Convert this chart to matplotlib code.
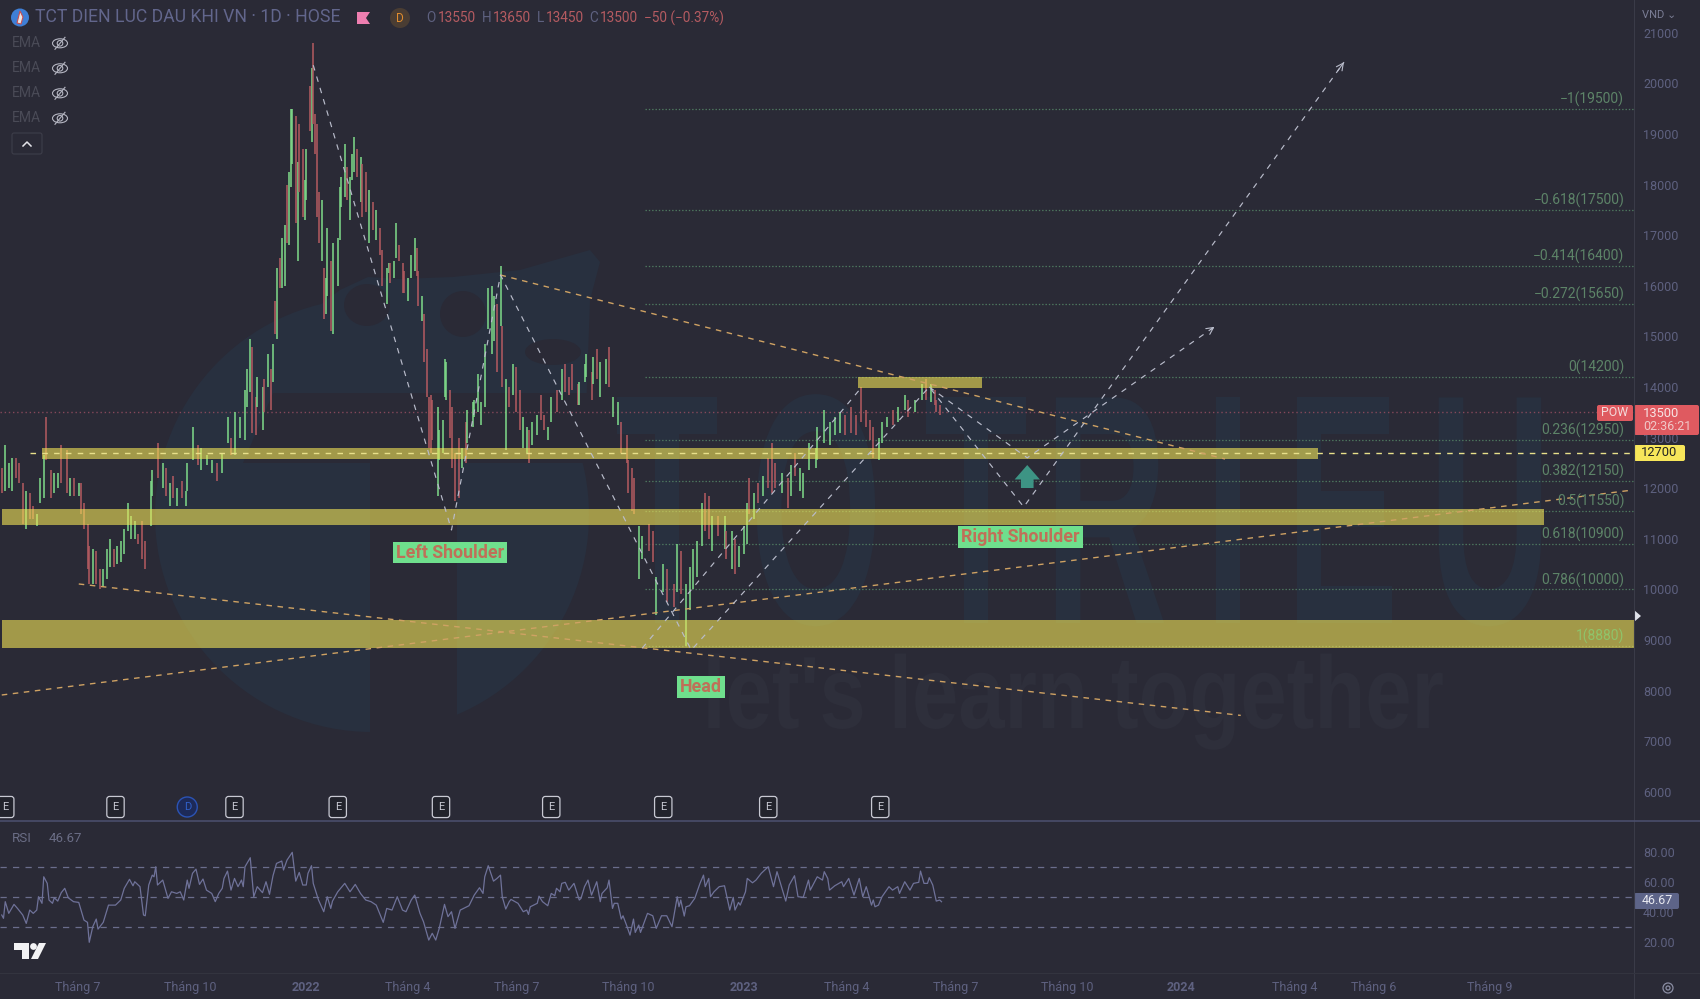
import matplotlib
matplotlib.use('Agg')
import matplotlib.pyplot as plt
from matplotlib.patches import Circle, Ellipse, Polygon, Rectangle, FancyBboxPatch
from matplotlib.patheffects import AbstractPathEffect
from matplotlib.transforms import Affine2D

plt.rcParams['font.family'] = ['Roboto', 'DejaVu Sans']
plt.rcParams['lines.scale_dashes'] = False

# daily candles, read every second session or so
sessions = [1,3,5,7,9,11,13,15,17,19,21,23,25,26,29,31,33,35,38,40,42,45,46,48,50,51,53,55,57,59,
    61,63,65,67,69,71,73,75,77,79,81,83,86,87,90,93,95,97,99,101,104,106,107,110,113,115,118,121,124,127,
    130,132,134,137,140,141,143,144,146,147,150,151,153,155,156,157,158,160,161,163,164,165,166,167,169,170,171,173,174,175,
    177,178,179,180,181,182,184,185,186,187,189,190,193,194,195,197,198,200,201,202,204,206,207,209,211,213,215,217,218,221,
    222,223,225,226,228,230,231,233,235,237,238,239,241,242,244,245,246,247,250,251,253,254,255,257,258,260,262,264,266,267,
    270,271,273,275,277,279,281,282,284,286,287,289,291,293,295,297,299,301,302,304,307,309,311,313,315,318,321,323,325,327,
    330,331,334,335,338,339,341,343,346,348,350,353,355,358,359,361,362,365,367,371,373,375,379,381,385,387,389,392,394,396,
    398,401,403,405,407,410,414,415,418,420,422,425,427,428,431,433,436,439,441,443,447,450,452,454,457,459,462,466,467,471,
    474,477,480,483,486,489,492,495,497,499,502,504,507,510,513,517,519,523,527,529,532,534,535,537]
highs = [12400,12850,12500,12600,12600,12500,12100,11950,11900,11650,11500,12200,12650,13400,12350,12300,12300,12850,12750,12200,12200,12100,12100,11700,11300,10850,10800,10750,10400,10400,
    10800,11000,10800,10850,10950,11200,11700,11450,11350,11100,11350,10950,12150,12350,12900,12500,12400,12100,12250,12000,12150,11950,12500,13200,12850,12800,12650,12550,12500,12700,
    13400,13000,13500,13400,13950,14350,14950,14800,13800,14200,14000,14150,14650,14350,14850,15700,16350,16550,16950,17200,18000,18250,19500,19500,19350,18450,19200,18700,18100,18700,
    19950,20300,20800,19400,19200,17850,17700,16350,16150,17150,16500,16850,16950,17950,18150,18800,18350,18150,18600,18950,18700,18550,18400,18250,17900,17650,17500,17150,16700,16350,
    16450,16450,16500,17250,16800,16450,16300,16150,16600,16950,16750,16300,15800,15450,14750,13800,13850,13750,13600,13150,13350,14550,14500,13950,13600,12700,13000,12800,13300,13550,
    13700,13750,14250,13700,14850,15950,16000,15800,15650,16400,15200,14150,14000,14450,14400,13950,13400,13200,13150,13300,13450,13850,13450,13200,13800,13950,14350,14450,14200,14450,
    14050,14100,14450,14650,14300,14600,14750,14500,14550,14800,13800,13700,13300,13050,12550,12400,12200,11250,11050,11300,11150,10250,10500,10400,10100,10900,10750,10100,10450,10800,
    10950,11700,11900,11850,11450,11450,11450,11150,11150,11000,10850,11250,11700,12200,11900,12100,12250,12600,12900,12500,12300,12200,12450,12700,12400,12300,12900,12800,13200,13550,
    13300,13400,13500,13450,13600,13450,14000,13550,13350,13200,13000,13300,13400,13550,13600,13850,13750,13750,14050,14150,14050,13950,13750,13650]
lows = [11900,11950,12000,11950,12200,12100,11300,11200,11400,11400,11250,11700,11800,12550,11800,11900,12000,12100,11900,11850,11850,11850,11500,11200,10400,10100,10100,10100,10000,10050,
    10200,10450,10450,10500,10550,10700,11150,11000,11000,10900,10600,10400,11250,11850,12200,12000,11850,11650,11800,11650,11800,11650,11950,12550,12450,12350,12450,12300,12150,12300,
    12900,12650,12650,13000,12950,13600,13900,13100,13050,13600,13150,13500,14000,13550,14100,15050,14950,15950,15950,16000,16850,16800,17950,18400,17250,16500,17850,17350,17300,17700,
    19050,18850,19200,18600,17350,16850,16500,15350,15450,15800,15100,15050,16000,16900,17550,17750,17700,17300,18100,18250,18150,17650,17350,17450,16850,17100,16900,16600,16000,15650,
    16250,16050,16150,16550,16500,15850,15850,15700,16150,16300,16200,15600,15300,14500,13800,12800,12700,12950,11850,12550,12700,13800,13750,13000,12400,11750,11800,12400,12500,12900,
    13200,13400,13500,13250,13600,15150,14650,14900,14300,15200,14000,12750,13600,13850,13500,13150,12800,12700,12500,12850,13050,13350,13150,12950,13300,13500,13750,13900,13850,13950,
    13650,13650,14100,14200,13750,14050,14150,13800,14050,14000,13400,13250,12700,12500,11900,11550,11500,10200,10600,10750,10550,9500,9950,9750,9650,9950,9900,8880,9600,10000,
    10250,10850,11150,11000,10750,11050,10800,10600,10400,10300,10450,10700,10900,11500,11400,11700,11850,12000,11900,12000,11900,11600,11850,12250,11950,11800,12350,12400,12550,12900,
    12850,13050,13100,13050,13100,13050,13300,13200,12950,12600,12550,12900,13200,13250,13300,13550,13400,13500,13750,13750,13700,13650,13500,13450]
# u = up bar, d = down bar
rising = ('duuudddudd' 'uuudduuddu' 'dudddduddu' 'uuduuuuuud' 'dduudududu' 'duuuduuudu'
          'uduuuuuddu' 'ududududuu' 'duuududduu' 'dudddduduu' 'duuuuuduuu' 'duddududdu'
          'uduuddduuu' 'ddudddddu' 'u' 'uuuddddudu' 'uuuuuuuudu' 'dududduudu' 'udduududdd'
          'duuududuud' 'uuddddduud' 'duudduduuu' 'uuddududud' 'uuudududdd' 'ududuuuuuu'
          'uuuddddddd' 'uuuduuduud' 'uddd')

rsi_sessions = [1,2,3,5,8,10,13,15,17,19,21,22,24,25,27,28,30,31,33,35,37,39,42,45,48,50,51,53,55,56,
    59,62,66,69,71,74,76,77,80,82,83,85,87,88,89,90,93,96,98,101,103,105,107,108,110,112,114,116,118,121,
    123,125,127,128,130,132,134,136,138,139,140,143,145,147,150,152,154,156,158,161,162,164,167,168,169,171,173,175,176,178,
    179,182,185,187,189,190,193,197,200,203,206,209,212,215,219,221,224,227,230,232,235,237,240,242,245,247,249,251,254,256,
    258,260,263,268,271,274,276,277,279,282,284,286,287,289,291,292,296,299,301,302,303,307,308,310,313,315,317,318,320,321,
    323,325,328,331,332,334,336,338,341,343,344,347,348,350,351,353,355,356,358,360,362,363,365,366,370,373,375,378,381,384,
    387,388,389,391,392,394,397,400,402,403,405,406,408,411,414,417,419,420,422,423,426,427,430,432,435,439,442,444,446,449,
    451,454,456,459,462,463,467,470,471,473,474,477,481,482,485,488,491,493,495,498,499,500,502,504,508,510,513,514,517,520,
    522,525,526,528,530,531,533,535,537,538]
rsi_values = [37.8,35.6,46.7,38.9,44.9,42.2,37.8,32.2,41.1,38.9,41.1,50,45.6,63.3,58.9,47.8,45.6,49.3,47.1,52.7,55.6,49.3,46.7,46.2,34.4,32.9,19.6,30,35.1,28.4,
    32.9,44.4,44.4,47.8,55.6,61.6,57.3,60,56.7,37.8,37.3,57.8,64.4,63.3,70,57.8,61.1,48.9,53.3,52.2,53.3,47.8,61.1,55.6,65.6,68.4,58.2,61.8,54.4,52.2,
    46.7,52.2,55.6,62.2,67.1,54.4,62.2,56.7,61.1,56.7,70,76,50,56.7,52.7,60,51.6,64,72.2,73.8,67.8,74.4,79.6,70,60.4,66.2,57.8,57.8,65.6,70.7,
    58.9,47.8,40,50,42.2,47.1,53.3,58.9,53.3,58.2,52.2,47.8,46.7,44.4,32.9,42.2,41.1,50,41.1,40,47.8,51.1,38.9,33.3,21.1,25.6,21.1,28.9,44.9,36.7,
    40,28.9,41.1,44,51.1,56,52.2,63.3,70.7,60.4,62.2,64.4,50,41.8,46.7,48.2,45.6,40,41.1,38.2,43.3,45.6,50.4,46.7,44,52.2,50.7,55.6,53.3,58.9,
    59.6,54.4,58.9,47.8,48.9,56.7,61.1,51.1,60,46.7,52.2,56,61.1,42.2,45.6,45.6,35.1,37.3,31.1,24.4,35.1,26.2,31.1,26.2,38.9,37.3,28.9,37.3,37.3,30,
    50,43.3,47.8,37.1,43.3,44,48.9,58.9,64.4,56.7,62.2,50,53.3,56.7,57.3,41.1,49.6,41.1,46.2,44.4,53.3,62.2,59.3,61.1,65.6,70,56.7,66.7,58.9,47.1,
    57.8,64,50,49.6,61.1,54.4,63.3,61.1,66.7,62.2,54.4,57.3,60,56.7,62.2,51.1,62.2,50,56.7,44.4,47.8,43.3,44.4,50,56.7,54.4,56.7,52.2,60,54.4,
    58.9,59.6,67.1,58.9,58.9,62.7,57.8,47.1,47.8,46.67]

fib_levels = [19500, 17500, 16400, 15650, 14200, 12950, 12150, 11550, 10900, 10000, 8880]
fib_labels = ['−1(19500)', '−0.618(17500)', '−0.414(16400)', '−0.272(15650)', '0(14200)', '0.236(12950)',
              '0.382(12150)', '0.5(11550)', '0.618(10900)', '0.786(10000)', '1(8880)']

# zones: first session, last session, low, high
zone_start = [24, 1, 1, 490]
zone_end = [753, 882, 934, 561]
zone_low = [12577, 11273, 8842, 13980]
zone_high = [12800, 11589, 9395, 14198]

zigzag_s = [179, 258, 286, 395, 531, 585, 768]
zigzag_p = [20360, 11174, 16213, 8800, 14000, 11630, 20420]
inner_s = [367, 492]
inner_p = [8840, 13980]
drop_s = [531, 587, 694]
drop_p = [14000, 12600, 15190]
trend_s = [(45, 709), (1, 933), (286, 700)]
trend_p = [(10107, 7510), (7913, 11964), (16213, 12577)]

time_ticks = [44.6, 108.6, 174.9, 233, 295, 359, 425, 484, 546, 610, 675, 740, 785, 851]
time_labels = ['Tháng 7', 'Tháng 10', '2022', 'Tháng 4', 'Tháng 7', 'Tháng 10', '2023', 'Tháng 4', 'Tháng 7',
               'Tháng 10', '2024', 'Tháng 4', 'Tháng 6', 'Tháng 9']
price_ticks = list(range(6000, 21001, 1000))
rsi_ticks = [20, 40, 60, 80]
earnings = [3, 66, 134, 193, 252, 315, 379, 439, 503]
dividend = [107]

BG = '#2a2a36'
WM = '#28303f'
UP = '#7fdc8a'
DOWN = '#b55b61'
AXIS_TXT = '#5e6180'
WHITE_D = '#b9bccb'
ORANGE = '#cfa263'
W, H = 1700, 999
PANE_R = 1634


class Squeeze(AbstractPathEffect):
    # narrows a text around its centre, the watermark font is a condensed one
    def __init__(self, cx, sx):
        super().__init__()
        self.cx = cx
        self.sx = sx

    def draw_path(self, renderer, gc, tpath, affine, rgbFace=None):
        squeeze = Affine2D().translate(-self.cx, 0).scale(self.sx, 1).translate(self.cx, 0)
        renderer.draw_path(gc, tpath, affine + squeeze, rgbFace)


fig = plt.figure(figsize=(W / 100, H / 100), dpi=100, facecolor=BG)

# watermark + chrome live in pixel axes
back = fig.add_axes([0, 0, 1, 1], zorder=0)
back.set_xlim(0, W)
back.set_ylim(H, 0)
back.axis('off')
back.add_patch(Circle((372, 515), 217, fc=WM, ec='none'))
back.add_patch(Polygon([(300, 320), (340, 290), (368, 277), (400, 279), (453, 277), (520, 270), (590, 250), (600, 262),
                        (590, 300), (585, 440), (372, 420)], fc=WM, ec='none'))
back.add_patch(Ellipse((367, 305), 46, 42, fc=BG, ec='none'))
back.add_patch(Ellipse((463, 314), 46, 46, fc=BG, ec='none'))
back.add_patch(Ellipse((553, 352), 56, 26, fc=BG, ec='none'))
back.add_patch(Polygon([(273, 393), (600, 393), (583, 463), (457, 463), (457, 735), (370, 735), (370, 463), (243, 463)],
                       fc=BG, ec='none'))
wm_font = ['Liberation Sans', 'DejaVu Sans']
for ch, cx in zip('TOTRIEU', [667, 816, 976, 1106, 1228, 1342, 1490]):
    t = back.text(cx, 623, ch, color=WM, fontsize=236, fontweight='bold', family=wm_font, ha='center', va='baseline')
    t.set_path_effects([Squeeze(cx, 0.52)])
t = back.text(1073, 728, "let's learn together", color='#2e2f3b', fontsize=74, fontweight='bold', family=wm_font,
              ha='center', va='baseline')
t.set_path_effects([Squeeze(1073, 0.81)])

ax = fig.add_axes([0, 1 - 820 / H, PANE_R / W, 820 / H], zorder=1)
ax.patch.set_alpha(0)
ax.set_xlim(0, PANE_R / 1.75)
ax.set_ylim(14000 - 433 / 0.0506, 14000 + 387 / 0.0506)
for s in ax.spines.values():
    s.set_visible(False)
ax.set_xticks([])
ax.yaxis.tick_right()
ax.set_yticks(price_ticks)
ax.tick_params(axis='y', length=0, pad=6.5, labelsize=9, labelcolor=AXIS_TXT)

colors = [UP if c == 'u' else DOWN for c in rising]
ax.vlines(sessions, lows, highs, colors=colors, lw=1.1, zorder=2)

for a, b, lo, hi in zip(zone_start, zone_end, zone_low, zone_high):
    ax.add_patch(Rectangle((a, lo), b - a, hi - lo, fc='#f3e557', ec='none', alpha=0.6, zorder=3))

for level, label in zip(fib_levels, fib_labels):
    ax.plot([368.6, PANE_R / 1.75], [level, level], color='#4f7a60', lw=0.9, ls=(0, (1, 1.4)), zorder=1)
    col = '#8fc46a' if label.startswith('1(') else '#5d8468'
    ax.annotate(label, (PANE_R / 1.75, level), xytext=(-7, 1.3), textcoords='offset points', ha='right', va='bottom',
                color=col, fontsize=10, zorder=5)

ax.axhline(13500, color='#85485a', lw=1, ls=(0, (1, 2)), zorder=1)
ax.plot([17, PANE_R / 1.75], [12700, 12700], color='#e8e08a', lw=1, ls=(0, (4, 4.5)), zorder=4)

for xs, ps in zip(trend_s, trend_p):
    ax.plot(xs, ps, color=ORANGE, lw=1, ls=(0, (4, 4)), zorder=4)
for xs, ps in [(zigzag_s, zigzag_p), (inner_s, inner_p), (drop_s, drop_p)]:
    ax.plot(xs, ps, color=WHITE_D, lw=0.85, ls=(0, (4, 4.5)), zorder=4)
for xs, ps in [(zigzag_s, zigzag_p), (drop_s, drop_p)]:
    ax.annotate('', xy=(xs[-1], ps[-1]), xytext=(xs[-1] - (xs[-1] - xs[-2]) * 0.02, ps[-1] - (ps[-1] - ps[-2]) * 0.02),
                zorder=4, arrowprops=dict(arrowstyle='->,head_length=0.5,head_width=0.25', color=WHITE_D, lw=0.8,
                                          mutation_scale=10, shrinkA=0, shrinkB=0))

ax.annotate('', xy=(587, 12458), xytext=(587, 12004), zorder=5,
            arrowprops=dict(arrowstyle='simple,head_length=0.8,head_width=1.4,tail_width=0.7', color='#3d9484', lw=0,
                            mutation_scale=13, shrinkA=0, shrinkB=0))

# earnings / dividend flags on the bottom of the price pane
marker_tf = ax.get_xaxis_transform()
for s in earnings:
    ax.text(s, 13.0 / 820, 'E', transform=marker_tf, ha='center', va='center', color='#c8c9d3', fontsize=8, zorder=6,
            bbox=dict(boxstyle='round,pad=0.5,rounding_size=0.25', fc='#22232c', ec='#c8c9d3', lw=0.9))
for s in dividend:
    ax.text(s, 13.0 / 820, 'D', transform=marker_tf, ha='center', va='center', color='#3060c8', fontsize=8, zorder=6,
            bbox=dict(boxstyle='circle,pad=0.45', fc='#1d2a58', ec='#2b53b5', lw=1))

rsi = fig.add_axes([0, 1 - 972.7 / H, PANE_R / W, 151.7 / H], zorder=1)
rsi.patch.set_alpha(0)
rsi.set_xlim(0, PANE_R / 1.75)
rsi.set_ylim(-0.67, 100.5)
for s in rsi.spines.values():
    s.set_visible(False)
for lvl in [70, 50, 30]:
    rsi.axhline(lvl, color='#6a6d8c', lw=0.9, ls=(0, (4.5, 4.5)))
rsi.plot(rsi_sessions, rsi_values, color='#6f7299', lw=0.9)
rsi.yaxis.tick_right()
rsi.set_yticks(rsi_ticks)
rsi.set_yticklabels(['%.2f' % v for v in rsi_ticks])
rsi.tick_params(axis='y', length=0, pad=6.5, labelsize=9, labelcolor=AXIS_TXT)
rsi.set_xticks(time_ticks)
rsi.set_xticklabels(time_labels)
rsi.tick_params(axis='x', length=0, pad=6, labelsize=9, labelcolor=AXIS_TXT)
for lab in rsi.get_xticklabels():
    if lab.get_text().startswith('20'):
        lab.set_fontweight('bold')

top = fig.add_axes([0, 0, 1, 1], zorder=3)
top.set_xlim(0, W)
top.set_ylim(H, 0)
top.axis('off')

# frame lines
top.plot([PANE_R, PANE_R], [0, H], color='#3a3b48', lw=0.8)
top.plot([0, W], [820.7, 820.7], color='#4d5070', lw=1.1)
top.plot([0, W], [973, 973], color='#33343f', lw=0.8)

# header
top.add_patch(Circle((20, 17.5), 9, fc='#3f7fd6', ec='none'))
top.add_patch(Polygon([(17, 23), (20, 11), (23, 17), (21, 24)], fc='#e9e4e4', ec='#c84d4d', lw=0.8))
top.text(35, 17.5, 'TCT DIEN LUC DAU KHI VN · 1D · HOSE', color='#62668c', fontsize=12.7, va='center')
top.add_patch(Polygon([(357, 12), (370, 12), (366, 18), (370, 24), (357, 24)], fc='#ee7eb0', ec='none'))
top.add_patch(Circle((400, 18), 10, fc='#4a3d33', ec='none'))
top.text(400, 18, 'D', color='#e08c2e', fontsize=8.5, ha='center', va='center')
for x, txt, col in [(426, 'O', AXIS_TXT), (438, '13550', DOWN), (482, 'H', AXIS_TXT), (493, '13650', DOWN),
                    (537, 'L', AXIS_TXT), (546, '13450', DOWN), (589, 'C', AXIS_TXT), (600, '13500', DOWN),
                    (644, '−50 (−0.37%)', DOWN)]:
    top.text(x, 18.5, txt, color=col, fontsize=9.8, va='center')

for y in [43.3, 68.3, 93.3, 118.3]:
    top.text(12, y, 'EMA', color='#4a4b57', fontsize=10, va='center')
    top.add_patch(Ellipse((60, y), 15, 9, fc='none', ec='#b5b6c2', lw=0.8))
    top.add_patch(Circle((60, y), 2.8, fc='none', ec='#b5b6c2', lw=0.8))
    top.plot([55, 65], [y + 6, y - 6], color='#b5b6c2', lw=0.8)
top.add_patch(FancyBboxPatch((12, 133), 30, 21, boxstyle='round,pad=0,rounding_size=2', fc='none', ec='#3d3e4a', lw=0.8))
top.plot([23, 27, 31], [146, 142, 146], color='#e4e4ea', lw=1.1)

top.text(1659, 14.5, 'VND ⌄', color='#7a7d95', fontsize=8, ha='center', va='center')

# pattern labels
for (x0, x1, y0, y1, txt) in [(393, 507, 542, 563, 'Left Shoulder'), (677, 725, 676, 698, 'Head'),
                              (958, 1083, 526, 548, 'Right Shoulder')]:
    top.add_patch(Rectangle((x0, y0), x1 - x0, y1 - y0, fc='#6fdf8d', ec='none'))
    top.text((x0 + x1) / 2, (y0 + y1) / 2 + 0.5, txt, color='#bf7058', fontsize=12.8, fontweight='bold', ha='center', va='center')

# price tags
top.add_patch(FancyBboxPatch((1597, 405), 36, 16, boxstyle='round,pad=0,rounding_size=2', fc='#df5a60', ec='none'))
top.text(1615, 413, 'POW', color='#f3dcdc', fontsize=8.8, ha='center', va='center')
top.add_patch(FancyBboxPatch((1634, 405), 65, 30, boxstyle='round,pad=0,rounding_size=2', fc='#df5a60', ec='none'))
top.text(1643, 413.5, '13500', color='#f7e4e4', fontsize=9.3, va='center')
top.text(1643, 427, '02:36:21', color='#f0c8c8', fontsize=9, va='center')
top.add_patch(FancyBboxPatch((1634, 445), 51, 16, boxstyle='round,pad=0,rounding_size=2', fc='#f7e65a', ec='none'))
top.text(1659, 453, '12700', color='#222222', fontsize=9.3, ha='center', va='center')
top.add_patch(Polygon([(1634, 610), (1641, 616), (1634, 622)], fc='#e0e2ea', ec='none'))
top.add_patch(FancyBboxPatch((1634, 893), 45, 16, boxstyle='round,pad=0,rounding_size=2', fc='#5d6488', ec='none'))
top.text(1657, 901, '46.67', color='#e8e9f0', fontsize=9, ha='center', va='center')

# rsi title, tv logo, settings
top.text(12, 838, 'RSI', color='#6a6d85', fontsize=9.6, va='center')
top.text(49, 838, '46.67', color='#6a6d85', fontsize=9.6, va='center')
top.add_patch(Polygon([(14, 943), (29, 943), (29, 959), (22, 959), (22, 950), (14, 950)], fc='#f2f2f4', ec='none'))
top.add_patch(Circle((33.5, 946.5), 3.4, fc='#f2f2f4', ec='none'))
top.add_patch(Polygon([(39, 943), (46, 943), (38, 959), (31, 959)], fc='#f2f2f4', ec='none'))
top.add_patch(Circle((1668, 988), 5, fc='none', ec='#8a8da3', lw=0.9))
top.add_patch(Circle((1668, 988), 2, fc='none', ec='#8a8da3', lw=0.9))

fig.savefig('out.png', dpi=100, facecolor=BG)
